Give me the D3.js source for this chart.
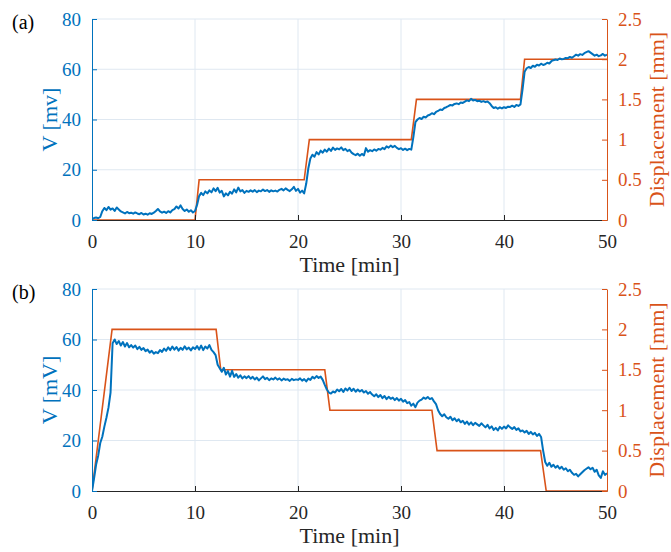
<!DOCTYPE html>
<html><head><meta charset="utf-8">
<script src="https://cdn.jsdelivr.net/npm/d3@7"></script>
<style>
body{margin:0;background:#fff}
svg text{font-family:"Times New Roman","Liberation Serif",Tinos,serif !important}
</style>
</head><body>
<svg id="chart" width="671" height="552"></svg>
<script>
// ---------- data ----------
const timeTicks = [0, 10, 20, 30, 40, 50];
const voltTicks = [0, 20, 40, 60, 80];
const dispTicks = [0, 0.5, 1, 1.5, 2, 2.5];
const dispTickLabels = ["0", "0.5", "1", "1.5", "2", "2.5"];
const sampleStepMin = 0.2; // signal sampled every 0.2 min

// (a) voltage [mV], samples at t = 0, 0.2, ..., 50 min
const voltA = [
  0.3,0.8,1.0,0.7,1.2,3.5,4.8,3.9,5.2,4.1,
  4.6,3.6,5.0,4.2,3.4,3.0,2.6,3.2,2.7,2.9,
  2.5,3.0,2.6,2.3,2.8,2.2,2.5,2.1,2.7,2.4,
  2.9,3.6,4.4,3.4,2.9,3.3,2.8,3.5,3.0,3.9,
  4.3,5.4,4.6,5.8,4.4,3.6,4.2,3.3,3.9,3.0,
  3.6,6.0,9.5,10.8,9.9,11.4,10.6,11.8,11.0,12.6,
  11.5,12.8,10.9,11.6,9.4,10.6,9.8,11.2,10.5,12.2,
  11.0,12.9,11.4,11.9,10.8,11.6,11.2,11.8,11.3,11.9,
  11.1,11.7,11.4,12.1,11.5,11.9,11.2,11.8,11.4,11.7,
  11.3,12.0,12.4,11.8,12.6,12.0,11.5,12.2,13.2,11.6,
  12.4,10.9,11.7,10.6,14.5,20.5,24.5,26.0,25.2,27.0,
  26.1,27.6,26.8,28.0,27.2,28.4,27.5,28.8,27.9,28.5,
  28.1,28.9,27.8,28.3,27.4,27.9,26.8,26.2,25.8,26.4,
  25.6,26.3,25.7,28.6,27.2,27.8,27.4,28.1,27.6,28.3,
  28.0,28.7,28.2,29.3,28.8,29.6,29.0,29.5,28.7,28.2,
  28.6,27.9,28.4,27.8,28.3,28.0,33.0,39.0,40.0,40.6,
  40.2,41.1,40.8,41.6,41.9,42.5,42.1,43.0,43.4,44.0,
  43.8,44.6,44.9,45.3,45.8,45.6,46.2,46.4,46.1,46.8,
  46.6,47.1,47.6,47.3,48.2,47.6,47.8,47.3,47.5,47.0,
  47.3,46.9,47.2,46.5,45.4,44.6,44.9,44.3,44.8,44.4,
  44.9,44.6,45.1,45.0,45.5,45.0,45.8,45.4,46.0,52.0,
  59.0,60.4,60.9,60.5,61.4,61.0,61.8,61.5,62.2,61.7,
  62.0,62.6,62.3,63.2,63.6,63.9,63.7,64.3,64.0,64.1,
  64.5,64.4,64.9,64.6,65.2,65.8,65.4,66.0,65.7,66.4,
  66.8,67.2,66.6,66.0,65.4,65.8,65.2,65.5,66.1,65.4,
  65.8
];
// (a) displacement [mm] breakpoints
const dispTimeA = [0, 10.0, 10.4, 20.6, 21.1, 31.0, 31.5, 41.6, 42.0, 50];
const dispA     = [0, 0,    0.5,  0.5,  1.0,  1.0,  1.5,  1.5,  2.0,  2.0];

// (b) voltage [mV], samples at t = 0, 0.2, ..., 50 min
const voltB = [
  0.0,5.0,10.5,14.0,19.0,21.5,25.5,29.0,33.0,39.0,
  58.5,60.0,58.2,59.4,57.6,59.0,57.2,58.6,56.9,57.8,
  56.8,57.6,56.2,57.1,55.9,56.6,55.4,56.0,54.8,55.5,
  54.4,55.0,54.6,55.8,55.1,56.4,55.5,56.9,55.8,57.2,
  56.0,57.0,55.6,56.7,55.9,57.3,56.1,56.8,55.7,56.9,
  56.2,57.4,56.0,57.6,55.8,57.2,56.4,57.8,55.9,55.0,
  53.8,50.0,48.6,47.2,48.8,46.1,47.5,45.3,47.6,45.2,
  46.3,44.9,45.8,44.6,45.4,44.7,45.5,44.5,45.2,44.2,
  44.9,43.8,44.6,45.4,44.3,44.8,43.9,44.6,44.2,44.9,
  44.1,44.6,43.8,44.5,44.0,44.3,43.6,44.4,43.9,44.2,
  44.0,44.6,43.7,44.3,43.4,44.5,44.0,45.2,44.6,45.5,
  44.8,45.3,44.0,42.0,40.2,39.0,38.6,39.4,39.0,40.2,
  39.5,40.4,39.2,40.6,39.8,40.9,39.6,40.5,39.3,40.2,
  39.4,40.0,39.0,39.6,38.5,39.2,38.2,37.5,38.3,37.2,
  38.0,36.8,37.6,36.4,37.3,36.5,37.0,36.0,36.8,35.8,
  36.5,35.4,36.0,34.8,35.2,33.8,34.6,33.2,35.0,35.8,
  36.2,37.0,36.5,37.2,36.4,36.8,35.5,34.4,32.0,30.5,
  29.6,30.4,29.2,28.6,29.4,28.0,28.8,27.6,28.4,27.2,
  27.8,26.6,27.5,26.3,27.2,26.1,27.0,26.4,25.8,26.8,
  26.0,25.2,26.2,24.8,25.6,24.2,25.0,24.0,25.4,24.6,
  25.5,24.8,26.0,25.2,24.6,25.3,24.2,24.8,23.6,24.0,
  23.2,23.8,22.6,23.4,22.4,23.0,21.8,22.6,21.4,16.0,
  11.5,10.0,11.2,9.6,10.4,9.2,10.0,8.8,9.6,8.4,
  9.0,7.8,8.4,7.2,6.4,6.8,5.8,6.6,7.4,8.2,
  8.8,9.4,8.6,9.2,7.6,8.4,6.2,5.2,7.8,6.4,
  7.0
];
// (b) displacement [mm] breakpoints
const dispTimeB = [0, 1.95, 12.05, 12.5, 22.6, 23.1, 33.0, 33.5, 43.55, 44.1, 50];
const dispB     = [0, 2.0,  2.0,   1.5,  1.5,  1.0,  1.0,  0.5,  0.5,   0,    0];

const panelLabels = ["(a)", "(b)"];
const voltLabels = ["V [mv]", "V [mV]"];
const xLabel = "Time [min]";
const dispLabel = "Displacement [mm]";

// ---------- drawing ----------
const BLUE = "#0072BD", ORANGE = "#D95319", DARK = "#262626", GRID = "#dfe8f1";
const FONT = '"Times New Roman","Liberation Serif",Tinos,serif';
const svg = d3.select("#chart");
const L = 92, R = 607;

const panels = [
  {top: 19,  bottom: 220, volt: voltA, dt: dispTimeA, d: dispA},
  {top: 289, bottom: 491, volt: voltB, dt: dispTimeB, d: dispB}
];

panels.forEach((p, i) => {
  const x = d3.scaleLinear().domain([0, 50]).range([L, R]);
  const yV = d3.scaleLinear().domain([0, 80]).range([p.bottom, p.top]);
  const yD = d3.scaleLinear().domain([0, 2.5]).range([p.bottom, p.top]);
  const g = svg.append("g").attr("font-family", FONT);

  // grid
  g.append("g").selectAll("line").data(timeTicks.filter(t => t > 0 && t < 50)).join("line")
    .attr("x1", d => x(d)).attr("x2", d => x(d)).attr("y1", p.top).attr("y2", p.bottom)
    .attr("stroke", GRID).attr("stroke-width", 1);
  g.append("g").selectAll("line").data(voltTicks.filter(v => v > 0)).join("line")
    .attr("x1", L).attr("x2", R).attr("y1", d => yV(d)).attr("y2", d => yV(d))
    .attr("stroke", GRID).attr("stroke-width", 1);

  // clip
  const cid = "clip" + i;
  svg.append("clipPath").attr("id", cid).append("rect")
    .attr("x", L).attr("y", p.top - 2).attr("width", R - L).attr("height", p.bottom - p.top + 3);

  // displacement line
  const dispLine = d3.line().x(k => x(p.dt[k])).y(k => yD(p.d[k]));
  g.append("path").attr("clip-path", `url(#${cid})`)
    .attr("d", dispLine(d3.range(p.dt.length)))
    .attr("fill", "none").attr("stroke", ORANGE).attr("stroke-width", 1.6);

  // voltage line
  const vLine = d3.line().x((v, k) => x(k * sampleStepMin)).y(v => yV(v));
  g.append("path").attr("clip-path", `url(#${cid})`)
    .attr("d", vLine(p.volt))
    .attr("fill", "none").attr("stroke", BLUE).attr("stroke-width", 2)
    .attr("stroke-linejoin", "round");

  // bottom axis
  const ax = g.append("g").attr("transform", `translate(0,${p.bottom})`)
    .call(d3.axisBottom(x).tickValues(timeTicks).tickSizeInner(-5).tickSizeOuter(0).tickPadding(10));
  ax.attr("font-family", FONT);
  ax.select(".domain").attr("stroke", DARK).attr("stroke-width", 1);
  ax.selectAll(".tick line").attr("stroke", DARK);
  ax.selectAll(".tick text").attr("fill", DARK).attr("font-size", 19).attr("dy", "0.95em");

  // left axis
  const al = g.append("g").attr("transform", `translate(${L},0)`)
    .call(d3.axisLeft(yV).tickValues(voltTicks).tickSizeInner(-5).tickSizeOuter(0).tickPadding(11));
  al.attr("font-family", FONT);
  al.select(".domain").attr("stroke", BLUE).attr("stroke-width", 1);
  al.selectAll(".tick line").attr("stroke", BLUE);
  al.selectAll(".tick text").attr("fill", BLUE).attr("font-size", 19);

  // right axis
  const ar = g.append("g").attr("transform", `translate(${R},0)`)
    .call(d3.axisRight(yD).tickValues(dispTicks).tickFormat((d, k) => dispTickLabels[k])
      .tickSizeInner(-5).tickSizeOuter(0).tickPadding(11));
  ar.attr("font-family", FONT);
  ar.select(".domain").attr("stroke", ORANGE).attr("stroke-width", 1);
  ar.selectAll(".tick line").attr("stroke", ORANGE);
  ar.selectAll(".tick text").attr("fill", ORANGE).attr("font-size", 19);

  // axis titles
  g.append("text").attr("x", (L + R) / 2).attr("y", p.bottom + 52)
    .attr("text-anchor", "middle").attr("font-size", 22).attr("fill", DARK).text(xLabel);
  const midY = (p.top + p.bottom) / 2;
  g.append("text").attr("transform", `translate(57,${midY}) rotate(-90)`)
    .attr("text-anchor", "middle").attr("font-size", 22).attr("fill", BLUE).text(voltLabels[i]);
  g.append("text").attr("transform", `translate(664,${midY}) rotate(-90)`)
    .attr("text-anchor", "middle").attr("font-size", 22).attr("fill", ORANGE).text(dispLabel);

  // panel label
  g.append("text").attr("x", 12).attr("y", p.top + 10)
    .attr("font-size", 20).attr("fill", "#000").text(panelLabels[i]);
});
</script>
</body></html>
